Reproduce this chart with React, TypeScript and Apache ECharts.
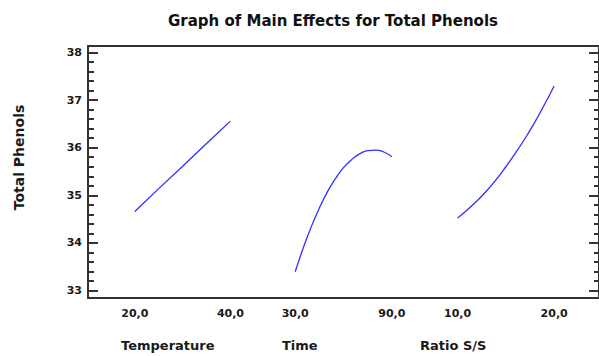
import React, { useEffect, useRef } from "react";
import * as echarts from "echarts";

const chartTitle = "Graph of Main Effects for Total Phenols";
const yName = "Total Phenols";
const factorNames = ["Temperature", "Time", "Ratio S/S"];

const tempX = [20, 25, 30, 35, 40];
const tempY = [34.66, 35.14, 35.61, 36.09, 36.56];

const timeX = [30, 35, 40, 45, 50, 55, 60, 65, 70, 75, 80, 85, 90];
const timeY = [33.39, 33.89, 34.34, 34.73, 35.07, 35.35, 35.58, 35.75, 35.87, 35.94, 35.95, 35.91, 35.81];

const ratioX = [10, 11, 12, 13, 14, 15, 16, 17, 18, 19, 20];
const ratioY = [34.52, 34.69, 34.88, 35.09, 35.33, 35.6, 35.89, 36.2, 36.54, 36.91, 37.3];

const tempTicks = [20, 40];
const timeTicks = [30, 90];
const ratioTicks = [10, 20];

const yMajorTicks = [33, 34, 35, 36, 37, 38];
const yMinorTicks = [
  33.2, 33.4, 33.6, 33.8, 34.2, 34.4, 34.6, 34.8, 35.2, 35.4, 35.6, 35.8,
  36.2, 36.4, 36.6, 36.8, 37.2, 37.4, 37.6, 37.8,
];

const FONT = "DejaVu Sans";
const AXIS_COLOR = "#333333";
const TEXT_COLOR = "#1a1a1a";
const LINE_COLOR = "#2f2fff";

const Y_MIN = 32.838;
const Y_MAX = 38.141;

function fmt(v: number) {
  return v.toFixed(1).replace(".", ",");
}

function xAxisFor(min: number, max: number, ticks: number[], showLine: boolean) {
  return {
    type: "value",
    gridIndex: 0,
    position: "bottom",
    min,
    max,
    axisLine: { show: showLine, lineStyle: { color: AXIS_COLOR, width: 2 } },
    axisTick: { show: false },
    splitLine: { show: false },
    axisLabel: {
      customValues: ticks,
      formatter: (v: number) => fmt(v),
      margin: 10,
      fontFamily: FONT,
      fontWeight: "bold",
      fontSize: 11,
      color: TEXT_COLOR,
    },
  };
}

function yAxisFor(position: string, ticks: number[], len: number, labels: boolean, showLine: boolean) {
  return {
    type: "value",
    gridIndex: 0,
    position,
    min: Y_MIN,
    max: Y_MAX,
    axisLine: { show: showLine, onZero: false, lineStyle: { color: AXIS_COLOR, width: 2 } },
    axisTick: {
      show: true,
      inside: true,
      length: len,
      customValues: ticks,
      lineStyle: { color: AXIS_COLOR, width: 2 },
    },
    splitLine: { show: false },
    axisLabel: labels
      ? {
          show: true,
          customValues: ticks,
          margin: 6,
          fontFamily: FONT,
          fontWeight: "bold",
          fontSize: 11,
          color: TEXT_COLOR,
        }
      : { show: false },
  };
}

export default function App() {
  const ref = useRef<HTMLDivElement>(null);

  useEffect(() => {
    if (!ref.current) return;
    const chart = echarts.init(ref.current, null, { renderer: "svg" });

    const option = {
      animation: false,
      backgroundColor: "#ffffff",
      title: {
        text: chartTitle,
        left: 163,
        top: 8,
        textStyle: {
          fontFamily: FONT,
          fontWeight: "bold",
          fontSize: 15,
          color: "#111111",
        },
      },
      grid: { left: 88, top: 46, right: -2, bottom: 58 },
      xAxis: [
        xAxisFor(10.21, 117.08, tempTicks, true),
        xAxisFor(-98.66, 218.66, timeTicks, false),
        xAxisFor(-28.25, 24.64, ratioTicks, false),
        {
          type: "value",
          gridIndex: 0,
          position: "top",
          min: 0,
          max: 1,
          axisLine: { show: true, lineStyle: { color: AXIS_COLOR, width: 2 } },
          axisTick: { show: false },
          axisLabel: { show: false },
          splitLine: { show: false },
        },
      ],
      yAxis: [
        yAxisFor("left", yMajorTicks, 10, true, true),
        yAxisFor("left", yMinorTicks, 6, false, false),
        yAxisFor("right", yMajorTicks, 10, false, true),
        yAxisFor("right", yMinorTicks, 5, false, false),
      ],
      graphic: [
        {
          type: "text",
          x: 18.5,
          y: 157.5,
          rotation: Math.PI / 2,
          style: {
            text: yName,
            fontFamily: FONT,
            fontWeight: "bold",
            fontSize: 14,
            fill: TEXT_COLOR,
            textAlign: "center",
            textVerticalAlign: "middle",
          },
        },
        ...factorNames.map((name, i) => ({
          type: "text",
          x: [121, 282, 420][i],
          y: 345,
          style: {
            text: name,
            fontFamily: FONT,
            fontWeight: "bold",
            fontSize: 13,
            fill: TEXT_COLOR,
            textAlign: "left",
            textVerticalAlign: "middle",
          },
        })),
      ],
      series: [
        {
          type: "line",
          xAxisIndex: 0,
          yAxisIndex: 0,
          data: tempX.map((x, i) => [x, tempY[i]]),
          showSymbol: false,
          lineStyle: { color: LINE_COLOR, width: 1.3 },
        },
        {
          type: "line",
          xAxisIndex: 1,
          yAxisIndex: 0,
          smooth: true,
          data: timeX.map((x, i) => [x, timeY[i]]),
          showSymbol: false,
          lineStyle: { color: LINE_COLOR, width: 1.3 },
        },
        {
          type: "line",
          xAxisIndex: 2,
          yAxisIndex: 0,
          smooth: true,
          data: ratioX.map((x, i) => [x, ratioY[i]]),
          showSymbol: false,
          lineStyle: { color: LINE_COLOR, width: 1.3 },
        },
      ],
    };

    chart.setOption(option as any);
    return () => chart.dispose();
  }, []);

  return (
    <div
      ref={ref}
      style={{ position: "fixed", left: 0, top: 0, width: 599, height: 356, background: "#fff" }}
    />
  );
}
